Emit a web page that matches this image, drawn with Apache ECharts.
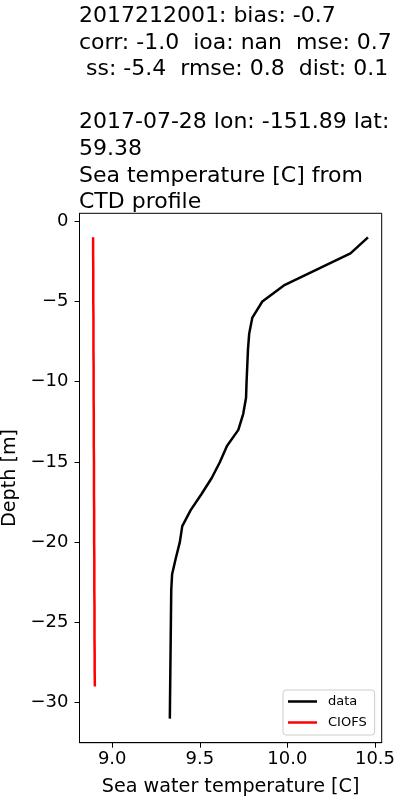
<!DOCTYPE html>
<html><head><meta charset="utf-8">
<script src="https://cdn.jsdelivr.net/npm/echarts@6/dist/echarts.min.js"></script>
<style>html,body{margin:0;padding:0;background:#fff}#c{width:400px;height:800px}</style>
</head><body><div id="c"></div>
<script>
const titleLines = [
  '2017212001: bias: -0.7',
  'corr: -1.0  ioa: nan  mse: 0.7',
  ' ss: -5.4  rmse: 0.8  dist: 0.1',
  '',
  '2017-07-28 lon: -151.89 lat:',
  '59.38',
  'Sea temperature [C] from',
  'CTD profile'
];
const depthData = [-1,-2,-3,-4,-5,-6,-7,-8,-9,-10,-11,-12,-13,-14,-15,-16,-17,-18,-19,-20,-21,-22,-23,-24,-25,-26,-27,-28,-29,-30,-31];
const tempData = [10.46,10.36,10.17,9.98,9.857,9.80,9.782,9.775,9.771,9.767,9.764,9.748,9.72,9.655,9.615,9.568,9.51,9.448,9.40,9.386,9.363,9.342,9.337,9.336,9.335,9.334,9.333,9.332,9.331,9.330,9.329];
const depthModel = [-1,-2,-3,-4,-5,-6,-7,-8,-9,-10,-11,-12,-13,-14,-15,-16,-17,-18,-19,-20,-21,-22,-23,-24,-25,-26,-27,-28,-29];
const tempModel = [8.891,8.891,8.892,8.892,8.892,8.893,8.893,8.893,8.894,8.894,8.894,8.895,8.895,8.895,8.896,8.896,8.896,8.897,8.897,8.897,8.898,8.898,8.898,8.899,8.899,8.899,8.900,8.900,8.901];
const xTicks = [9.0, 9.5, 10.0, 10.5];
const yTicks = [0, -5, -10, -15, -20, -25, -30];
const seriesNames = ['data', 'CIOFS'];
const xLabel = 'Sea water temperature [C]';
const yLabel = 'Depth [m]';

const FONT = 'DejaVu Sans';
const chart = echarts.init(document.getElementById('c'), null, {renderer: 'canvas'});
chart.setOption({
  animation: false,
  backgroundColor: '#fff',
  title: {
    text: titleLines.join('\n'),
    left: 79, top: 3,
    padding: 0,
    textStyle: {fontFamily: FONT, fontSize: 22, fontWeight: 'normal', color: '#000', lineHeight: 26.6}
  },
  grid: {left: 79.5, right: 18.3, top: 213.3, bottom: 57.3, containLabel: false, outerBoundsMode: 'none',
    show: true, borderColor: '#000', borderWidth: 1, backgroundColor: 'transparent'},
  legend: {
    data: seriesNames,
    orient: 'vertical',
    left: 283, top: 690,
    width: 91,
    icon: 'rect',
    itemWidth: 29, itemHeight: 2.5,
    itemGap: 6,
    padding: [4, 8, 5, 5],
    borderColor: '#cccccc', borderWidth: 1, borderRadius: 3,
    backgroundColor: 'rgba(255,255,255,0.8)',
    textStyle: {fontFamily: FONT, fontSize: 13, color: '#000', lineHeight: 15, padding: [0, 0, 0, 6]}
  },
  xAxis: {
    type: 'value', min: 8.8134, max: 10.5383,
    name: xLabel, nameLocation: 'middle', nameGap: 35,
    nameTextStyle: {fontFamily: FONT, fontSize: 19.2, color: '#000'},
    splitLine: {show: false},
    axisLine: {show: true, onZero: false, lineStyle: {color: '#000', width: 1}},
    axisTick: {show: true, length: 5, customValues: xTicks, lineStyle: {color: '#000'}},
    axisLabel: {customValues: xTicks, margin: 8, fontFamily: FONT, fontSize: 18, color: '#000',
      formatter: v => v.toFixed(1)}
  },
  yAxis: {
    type: 'value', min: -32.5, max: 0.5,
    name: yLabel, nameLocation: 'middle', nameGap: 55, nameRotate: 90,
    nameTextStyle: {fontFamily: FONT, fontSize: 19.2, color: '#000'},
    splitLine: {show: false},
    axisLine: {show: true, onZero: false, lineStyle: {color: '#000', width: 1}},
    axisTick: {show: true, length: 5, customValues: yTicks, lineStyle: {color: '#000'}},
    axisLabel: {customValues: yTicks, margin: 11, fontFamily: FONT, fontSize: 18, color: '#000',
      formatter: v => String(v).replace('-', '\u2212')}
  },
  series: [
    {name: seriesNames[0], type: 'line', symbol: 'none', color: '#000',
     lineStyle: {color: '#000', width: 2.5},
     data: depthData.map((d, i) => [tempData[i], d])},
    {name: seriesNames[1], type: 'line', symbol: 'none', color: '#ff0000',
     lineStyle: {color: '#ff0000', width: 2.5},
     data: depthModel.map((d, i) => [tempModel[i], d])}
  ]
});
</script></body></html>
